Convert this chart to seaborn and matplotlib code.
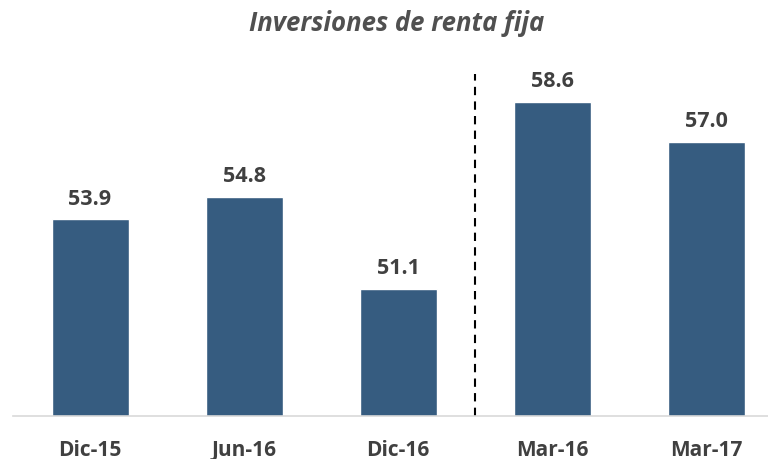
import pandas as pd
import matplotlib
matplotlib.use("Agg")
import matplotlib.pyplot as plt
import seaborn as sns

periodos = ["Dic-15", "Jun-16", "Dic-16", "Mar-16", "Mar-17"]
valores = [53.9, 54.8, 51.1, 58.6, 57.0]
etiquetas = ["53.9", "54.8", "51.1", "58.6", "57.0"]

sns.set_style("white")
plt.rcParams["font.family"] = ["Open Sans", "DejaVu Sans"]

df = pd.DataFrame({"periodo": periodos, "valor": valores})

fig = plt.figure(figsize=(7.68, 4.60), dpi=100)
ax = fig.add_axes([13 / 768, 43 / 460, 755 / 768, 349 / 460])

sns.barplot(data=df, x="periodo", y="valor", color="#365C80", saturation=1,
            width=0.5, ax=ax)

for i, (v, t) in enumerate(zip(valores, etiquetas)):
    ax.text(i, v + 0.42, t, ha="center", va="bottom", fontsize=15.5,
            fontweight="bold", color="#404040")

# separador entre periodos
ax.vlines(2.5, 46, 59.72, colors="black", linestyles=(0, (4, 3)), linewidth=1.5)

sns.despine(ax=ax, left=True, top=True, right=True)
ax.spines["bottom"].set_color("#d9d9d9")
ax.spines["bottom"].set_linewidth(1.2)
ax.set_yticks([])
ax.set_xticks([x - 0.5 for x in range(6)], minor=True)
ax.tick_params(axis="x", which="minor", length=6, color="#d9d9d9", width=1.2,
               direction="out")
ax.tick_params(axis="x", which="major", length=0, pad=28, labelsize=15,
               labelcolor="#404040")
for lbl in ax.get_xticklabels():
    lbl.set_fontweight("bold")
    lbl.set_verticalalignment("baseline")
ax.set_xlabel("")
ax.set_ylabel("")
ax.set_ylim(46, 60)
ax.set_xlim(-0.5, 4.40)

fig.text(397 / 768, 1 - 31 / 460, "Inversiones de renta fija", ha="center",
         va="baseline", fontsize=18.5, fontweight="bold", fontstyle="italic",
         color="#505050")

fig.savefig("out.png", dpi=100)
